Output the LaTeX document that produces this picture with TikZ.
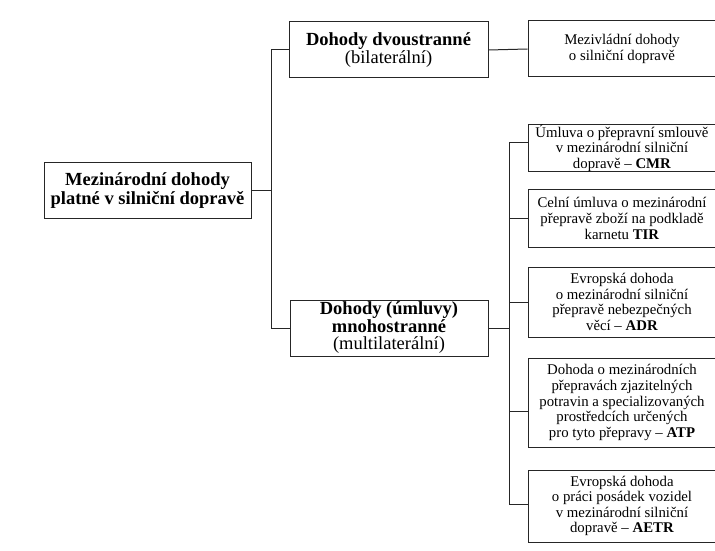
\documentclass[tikz,border=0pt]{standalone}
\usepackage{fontspec}
\setmainfont{Liberation Serif}
\usetikzlibrary{calc}
\tikzset{
  box/.style={draw=black!85, line width=1pt, inner sep=0pt, align=center},
  head/.style={box, font=\fontsize{18.5}{17.5}\selectfont},
  leaf/.style={box, font=\fontsize{14.8}{15.6}\selectfont, minimum width=188pt},
  link/.style={draw=black!85, line width=1pt},
}
\begin{document}
\begin{tikzpicture}[x=1pt,y=1pt]
\useasboundingbox[fill=white] (0,0) rectangle (715,550);

% root and the two kinds of agreements
\node[head, minimum width=207pt, minimum height=55pt] (root) at (147.5,359.5)
  {\textbf{Mezinárodní dohody}\\[1pt]\textbf{platné v silniční dopravě}};
\node[head, minimum width=199pt, minimum height=56pt] (bil) at (388.5,500)
  {\textbf{Dohody dvoustranné}\\(bilaterální)};
\node[head, minimum width=198pt, minimum height=56pt] (multi) at (389,222)
  {\textbf{Dohody (úmluvy)}\\\textbf{mnohostranné}\\(multilaterální)};

% bilateral branch
\node[leaf, minimum height=56pt] (mez) at (622,501)
  {Mezivládní dohody\\o silniční dopravě};

% multilateral branch
\node[leaf, minimum height=46pt] (cmr) at (622,402)
  {Úmluva o přepravní smlouvě\\v mezinárodní silniční\\dopravě -- \textbf{CMR}};
\node[leaf, minimum height=57pt] (tir) at (622,331.5)
  {Celní úmluva o mezinárodní\\přepravě zboží na podkladě\\karnetu \textbf{TIR}};
\node[leaf, minimum height=70pt] (adr) at (622,248)
  {Evropská dohoda\\o mezinárodní silniční\\přepravě nebezpečných\\věcí -- \textbf{ADR}};
\node[leaf, minimum height=89pt] (atp) at (622,147.5)
  {Dohoda o mezinárodních\\přepravách zjazitelných\\potravin a specializovaných\\prostředcích určených\\pro tyto přepravy -- \textbf{ATP}};
\node[leaf, minimum height=72pt] (aetr) at (622,44)
  {Evropská dohoda\\o práci posádek vozidel\\v mezinárodní silniční\\dopravě -- \textbf{AETR}};

% first trunk
\coordinate (t1) at ($(root.east)+(20,0)$);
\draw[link] (root.east) -- (t1) |- (bil.west);
\draw[link] (t1) |- (multi.west);

\draw[link] (bil.east) -- (mez.west);

% second trunk
\coordinate (t2) at ($(multi.east)+(21,0)$);
\draw[link] (multi.east) -- (t2);
\draw[link] (t2) |- ($(cmr.west)+(0,5)$);
\draw[link] (t2) |- (tir.west);
\draw[link] (t2) |- (adr.west);
\draw[link] (t2) |- ($(atp.west)+(0,-9)$);
\draw[link] (t2) |- ($(aetr.west)+(0,2)$);
\end{tikzpicture}
\end{document}
